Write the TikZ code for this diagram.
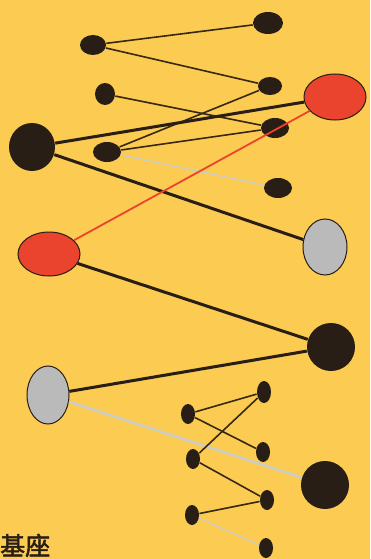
\documentclass[tikz,border=0pt]{standalone}
\usepackage{fontspec}
\usetikzlibrary{shapes.geometric}
\newfontfamily\cjk[FakeBold=2]{Noto Sans CJK SC}
\definecolor{bg}{RGB}{251,203,82}
\definecolor{dk}{RGB}{40,30,22}
\definecolor{rd}{RGB}{234,68,46}
\definecolor{gy}{RGB}{186,186,186}
\definecolor{lgy}{RGB}{205,205,200}
\definecolor{thin}{RGB}{55,40,20}
\begin{document}
\begin{tikzpicture}[x=1pt,y=-1pt,
  blob/.style n args={3}{ellipse,draw=dk,line width=1pt,fill=#1,inner sep=0,minimum width=#2,minimum height=#3},
  thinedge/.style={draw=thin,line width=1.6pt},
  greyedge/.style={draw=lgy,line width=1.5pt},
  thickedge/.style={draw=dk,line width=3pt},
  rededge/.style={draw=rd,line width=1.8pt}]
\path[use as bounding box,fill=bg] (0,0) rectangle (370,559);
\begin{scope}
\clip (0,0) rectangle (370,559);
% top cluster
\node[blob={dk}{26}{20},draw=none] (A) at (93,45) {};
\node[blob={dk}{30}{22},draw=none] (B) at (268,23) {};
\node[blob={dk}{24}{18},draw=none] (C) at (270,86) {};
\node[blob={dk}{20}{22},draw=none] (D) at (105,94) {};
\node[blob={dk}{28}{20},draw=none] (E) at (275,128) {};
\node[blob={dk}{46}{48},draw=none] (F) at (32,147) {};
\node[blob={dk}{28}{20},draw=none] (G) at (107,152) {};
\node[blob={dk}{28}{20},draw=none] (H) at (278,188) {};
\node[blob={rd}{62}{46}] (R1) at (335,97) {};
% middle
\node[blob={rd}{62}{44}] (R2) at (49,254) {};
\node[blob={gy}{44}{56}] (G1) at (325,247) {};
\node[blob={dk}{48}{48},draw=none] (K) at (331,347) {};
\node[blob={gy}{42}{58}] (G2) at (48,395) {};
\node[blob={dk}{48}{48},draw=none] (L) at (325,485) {};
% bottom small
\node[blob={dk}{14}{22},draw=none] (s1) at (264,392) {};
\node[blob={dk}{14}{20},draw=none] (s2) at (188,414) {};
\node[blob={dk}{14}{20},draw=none] (s3) at (263,452) {};
\node[blob={dk}{14}{20},draw=none] (s4) at (193,459) {};
\node[blob={dk}{14}{20},draw=none] (s5) at (267,500) {};
\node[blob={dk}{14}{20},draw=none] (s6) at (192,515) {};
\node[blob={dk}{14}{20},draw=none] (s7) at (266,548) {};
% edges
\path[thinedge] (A) -- (B);
\path[thinedge] (A) -- (C);
\path[thinedge] (D) -- (E);
\path[thinedge] (G) -- (C);
\path[thinedge] (G) -- (E);
\path[greyedge,line width=1.4pt] (G) -- (H);
\path[thickedge] (F) -- (R1);
\path[thickedge] (F) -- (G1);
\path[rededge] (R1) -- (R2);
\path[thickedge] (R2) -- (K);
\path[thickedge] (G2) -- (K);
\path[greyedge,line width=2.6pt] (G2) -- (L);
\path[thinedge] (s2) -- (s1);
\path[thinedge] (s2) -- (s3);
\path[thinedge] (s4) -- (s1);
\path[thinedge] (s4) -- (s5);
\path[thinedge] (s6) -- (s5);
\path[greyedge,line width=1.3pt] (s6) -- (s7);
\node[anchor=base west,inner sep=0,text=dk,font=\cjk\fontsize{25}{25}\selectfont] (T) at (0,555) {基座};
\end{scope}
\end{tikzpicture}
\end{document}
